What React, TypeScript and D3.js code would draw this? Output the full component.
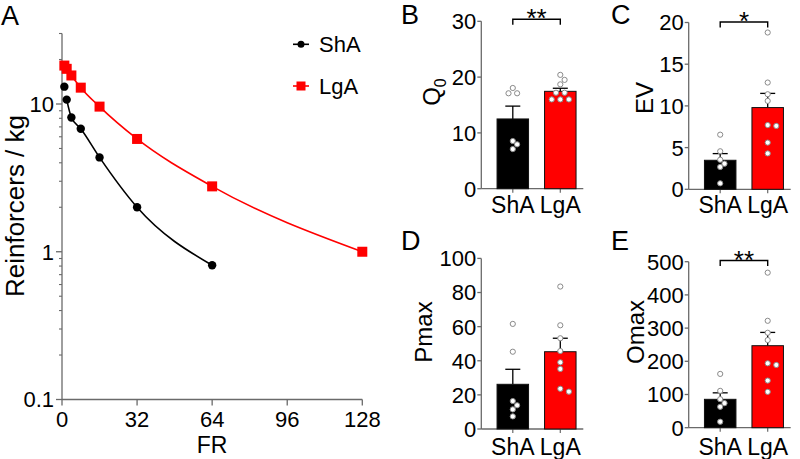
import React from 'react';
import * as d3 from 'd3';

// ---------- Panel A data ----------
const frValues = [1, 2, 4, 8, 16, 32, 64, 128];
const shaConsumption = [13.1, 10.7, 8.1, 6.8, 4.35, 2.0, 0.81];
const lgaConsumption = [18.2, 17.3, 15.6, 12.9, 9.6, 5.8, 2.77, 1.0];
const frTicks = [0, 32, 64, 96, 128];
const logMajorTicks = [0.1, 1, 10];
const logTickLabels = ['0.1', '1', '10'];
const legendLabels = ['ShA', 'LgA'];

// ---------- Bar panels data ----------
const groups = ['ShA', 'LgA'];
const q0Mean = [12.5, 17.45];
const q0Sem = [2.3, 0.55];
const q0ShA = [18.05, 17.1, 17.1, 8.55, 7.95, 7.1];
const q0LgA = [20.4, 19.5, 18.7, 17.2, 17.2, 16, 16, 16];
const q0Ticks = [0, 10, 20, 30];

const evMean = [3.48, 9.8];
const evSem = [0.8, 1.7];
const evShA = [6.55, 4.56, 3.55, 3.07, 2.68, 0.72];
const evLgA = [18.8, 12.8, 11.4, 10.6, 7.7, 7.6, 5.6, 4.3];
const evTicks = [0, 5, 10, 15, 20];

const pmaxMean = [26.2, 45.3];
const pmaxSem = [8.8, 7.9];
const pmaxShA = [61.6, 45.3, 16.4, 13.9, 11.5, 7.4];
const pmaxLgA = [83.5, 60.8, 53.2, 45.7, 39.1, 35.2, 23.6, 21.9];
const pmaxTicks = [0, 20, 40, 60, 80, 100];

const omaxMean = [85.5, 247];
const omaxSem = [19.5, 40];
const omaxShA = [162, 111, 86, 74, 63, 18];
const omaxLgA = [467, 322, 286, 264, 194, 189, 142, 108];
const omaxTicks = [0, 100, 200, 300, 400, 500];

const FONT = '"Liberation Sans", Arial, Helvetica, sans-serif';
const AXIS = '#6a6a6a';

function beeswarm(values: number[], y: (v: number) => number, step = 4.3, minDist = 5.2) {
  const order = values.map((v, i) => i).sort((a, b) => values[b] - values[a]);
  const placed: { i: number; x: number; y: number }[] = [];
  const cands = [0, step, -step, 2 * step, -2 * step, 3 * step, -3 * step, 4 * step, -4 * step];
  for (const i of order) {
    const py = y(values[i]);
    let px = 0;
    for (const c of cands) {
      if (placed.every(p => Math.hypot(p.x - c, p.y - py) >= minDist)) { px = c; break; }
    }
    placed.push({ i, x: px, y: py });
  }
  const rows = d3.group(placed, p => Math.round(p.y * 10));
  rows.forEach(row => {
    if (row.length > 1) {
      const m = d3.mean(row, p => p.x) as number;
      row.forEach(p => (p.x -= m));
    }
  });
  return placed;
}

function PanelA() {
  const x = d3.scaleLinear().domain([0, 128]).range([62, 362.3]);
  const y = d3.scaleLog().domain([0.1, 30]).range([399.5, 33.5]);
  const minor: number[] = [];
  [0.1, 1, 10].forEach(d => {
    for (let k = 2; k <= 9; k++) { const v = d * k; if (v <= 30) minor.push(v); }
  });
  const line = d3.line<[number, number]>().x(d => x(d[0])).y(d => y(d[1])).curve(d3.curveMonotoneX);
  const shaFit = shaConsumption.map((v, i) => [frValues[i], v] as [number, number]).slice(1);
  const lgaFit = lgaConsumption.map((v, i) => [frValues[i], v] as [number, number]);
  return (
    <g>
      <text x={1} y={25} fontSize={27} fontFamily={FONT}>A</text>
      <line x1={62} x2={62} y1={y(30)} y2={399.5} stroke={AXIS} strokeWidth={1.3} />
      <line x1={62} x2={x(128)} y1={399.5} y2={399.5} stroke={AXIS} strokeWidth={1.3} />
      {minor.map((v, i) => (
        <line key={'mn' + i} x1={59} x2={62} y1={y(v)} y2={y(v)} stroke={AXIS} strokeWidth={1.1} />
      ))}
      {logMajorTicks.map((v, i) => (
        <g key={'mj' + i}>
          <line x1={56} x2={62} y1={y(v)} y2={y(v)} stroke={AXIS} strokeWidth={1.3} />
          <text x={54} y={y(v)} dy="0.36em" textAnchor="end" fontSize={22} fontFamily={FONT}>{logTickLabels[i]}</text>
        </g>
      ))}
      {frTicks.map((v, i) => (
        <g key={'xt' + i}>
          <line x1={x(v)} x2={x(v)} y1={399.5} y2={405.5} stroke={AXIS} strokeWidth={1.3} />
          <text x={x(v)} y={427} textAnchor="middle" fontSize={22} fontFamily={FONT}>{v}</text>
        </g>
      ))}
      <text x={x(64)} y={453} textAnchor="middle" fontSize={23} fontFamily={FONT}>FR</text>
      <text transform="translate(24,206) rotate(-90)" textAnchor="middle" fontSize={26} fontFamily={FONT}>Reinforcers / kg</text>
      <path d={line(shaFit) || ''} fill="none" stroke="#000" strokeWidth={1.6} />
      <path d={line(lgaFit) || ''} fill="none" stroke="#ff0000" strokeWidth={1.6} />
      {shaConsumption.map((v, i) => (
        <circle key={'s' + i} cx={x(frValues[i])} cy={y(v)} r={4.2} fill="#000" />
      ))}
      {lgaConsumption.map((v, i) => (
        <rect key={'l' + i} x={x(frValues[i]) - 5} y={y(v) - 5} width={10} height={10} fill="#ff0000" />
      ))}
      <line x1={293} x2={309} y1={44.3} y2={44.3} stroke="#000" strokeWidth={1.6} />
      <circle cx={301} cy={44.3} r={3.5} fill="#000" />
      <text x={319} y={52} fontSize={22} fontFamily={FONT}>{legendLabels[0]}</text>
      <line x1={293} x2={309} y1={86} y2={86} stroke="#ff0000" strokeWidth={1.6} />
      <rect x={296.5} y={81.5} width={9} height={9} fill="#ff0000" />
      <text x={319} y={94} fontSize={22} fontFamily={FONT}>{legendLabels[1]}</text>
    </g>
  );
}

type BarProps = {
  letter: string; letterX: number; letterY: number;
  axisX: number; y0: number; yTop: number; max: number; ticks: number[];
  means: number[]; sems: number[]; pts: number[][];
  label: React.ReactNode; labelX: number; labelY: number;
  xLabelY: number; sig?: string; sigY?: number;
};

function BarPanel(p: BarProps) {
  const y = d3.scaleLinear().domain([0, p.max]).range([p.y0, p.yTop]);
  const x = d3.scalePoint<string>().domain(groups).range([p.axisX + 31.5, p.axisX + 79]);
  const bw = 31.5;
  const colors = ['#000000', '#ff0000'];
  return (
    <g>
      <text x={p.letterX} y={p.letterY} fontSize={27} fontFamily={FONT}>{p.letter}</text>
      <line x1={p.axisX} x2={p.axisX} y1={p.yTop} y2={p.y0} stroke={AXIS} strokeWidth={1.3} />
      <line x1={p.axisX} x2={p.axisX + 102} y1={p.y0} y2={p.y0} stroke={AXIS} strokeWidth={1.3} />
      {p.ticks.map((t, i) => (
        <g key={i}>
          <line x1={p.axisX - 4} x2={p.axisX} y1={y(t)} y2={y(t)} stroke={AXIS} strokeWidth={1.3} />
          <text x={p.axisX - 5} y={y(t)} dy="0.36em" textAnchor="end" fontSize={22} fontFamily={FONT}>{t}</text>
        </g>
      ))}
      {groups.map((g) => {
        const cx = x(g) as number;
        return (
          <g key={g}>
            <line x1={cx} x2={cx} y1={p.y0} y2={p.y0 + 4} stroke={AXIS} strokeWidth={1.2} />
            <text x={cx} y={p.xLabelY} textAnchor="middle" fontSize={23} fontFamily={FONT}>{g}</text>
          </g>
        );
      })}
      {groups.map((g, gi) => {
        const cx = x(g) as number;
        const top = y(p.means[gi]);
        const et = y(p.means[gi] + p.sems[gi]);
        return (
          <g key={'b' + g}>
            <line x1={cx} x2={cx} y1={top} y2={et} stroke="#000" strokeWidth={1.3} />
            <line x1={cx - 7.5} x2={cx + 7.5} y1={et} y2={et} stroke="#000" strokeWidth={1.3} />
            <rect x={cx - bw / 2} y={top} width={bw} height={p.y0 - top} fill={colors[gi]} stroke="#111" strokeWidth={1} />
          </g>
        );
      })}
      {groups.map((g, gi) => {
        const cx = x(g) as number;
        const placed = beeswarm(p.pts[gi], y);
        return placed.map((pt, k) => (
          <circle key={g + k} cx={cx + pt.x} cy={pt.y} r={2.6} fill="#fff" stroke="#8a8a8a" strokeWidth={1} />
        ));
      })}
      {p.sig && p.sigY !== undefined && (
        <g>
          <path d={`M${x('ShA')},${p.sigY + 5.5}V${p.sigY}H${x('LgA')}V${p.sigY + 5.5}`} fill="none" stroke="#000" strokeWidth={1.4} />
          <text x={((x('ShA') as number) + (x('LgA') as number)) / 2} y={p.sigY + 8} textAnchor="middle" fontSize={26} fontFamily={FONT}>{p.sig}</text>
        </g>
      )}
      <g transform={`translate(${p.labelX},${p.labelY}) rotate(-90)`}>
        <text textAnchor="middle" fontSize={24} fontFamily={FONT}>{p.label}</text>
      </g>
    </g>
  );
}

export default function App() {
  return (
    <svg width={800} height={459} style={{ position: 'absolute', left: 0, top: 0, background: '#fff' }}>
      <rect width={800} height={459} fill="#fff" />
      <PanelA />
      <BarPanel letter="B" letterX={401} letterY={24} axisX={481.3} y0={188.7} yTop={21.3} max={30} ticks={q0Ticks}
        means={q0Mean} sems={q0Sem} pts={[q0ShA, q0LgA]}
        label={<>Q<tspan fontSize={16} dy={6}>0</tspan></>} labelX={440} labelY={92} xLabelY={213} sig="**" sigY={19.3} />
      <BarPanel letter="C" letterX={611} letterY={24} axisX={688.7} y0={189.3} yTop={22.5} max={20} ticks={evTicks}
        means={evMean} sems={evSem} pts={[evShA, evLgA]}
        label={<>EV</>} labelX={653} labelY={98} xLabelY={213} sig="*" sigY={22} />
      <BarPanel letter="D" letterX={401} letterY={250} axisX={481.3} y0={429} yTop={258.4} max={100} ticks={pmaxTicks}
        means={pmaxMean} sems={pmaxSem} pts={[pmaxShA, pmaxLgA]}
        label={<>Pmax</>} labelX={432} labelY={332} xLabelY={455} />
      <BarPanel letter="E" letterX={611} letterY={250} axisX={688.7} y0={427.7} yTop={261.7} max={500} ticks={omaxTicks}
        means={omaxMean} sems={omaxSem} pts={[omaxShA, omaxLgA]}
        label={<>Omax</>} labelX={644} labelY={332} xLabelY={455} sig="**" sigY={260.5} />
    </svg>
  );
}
